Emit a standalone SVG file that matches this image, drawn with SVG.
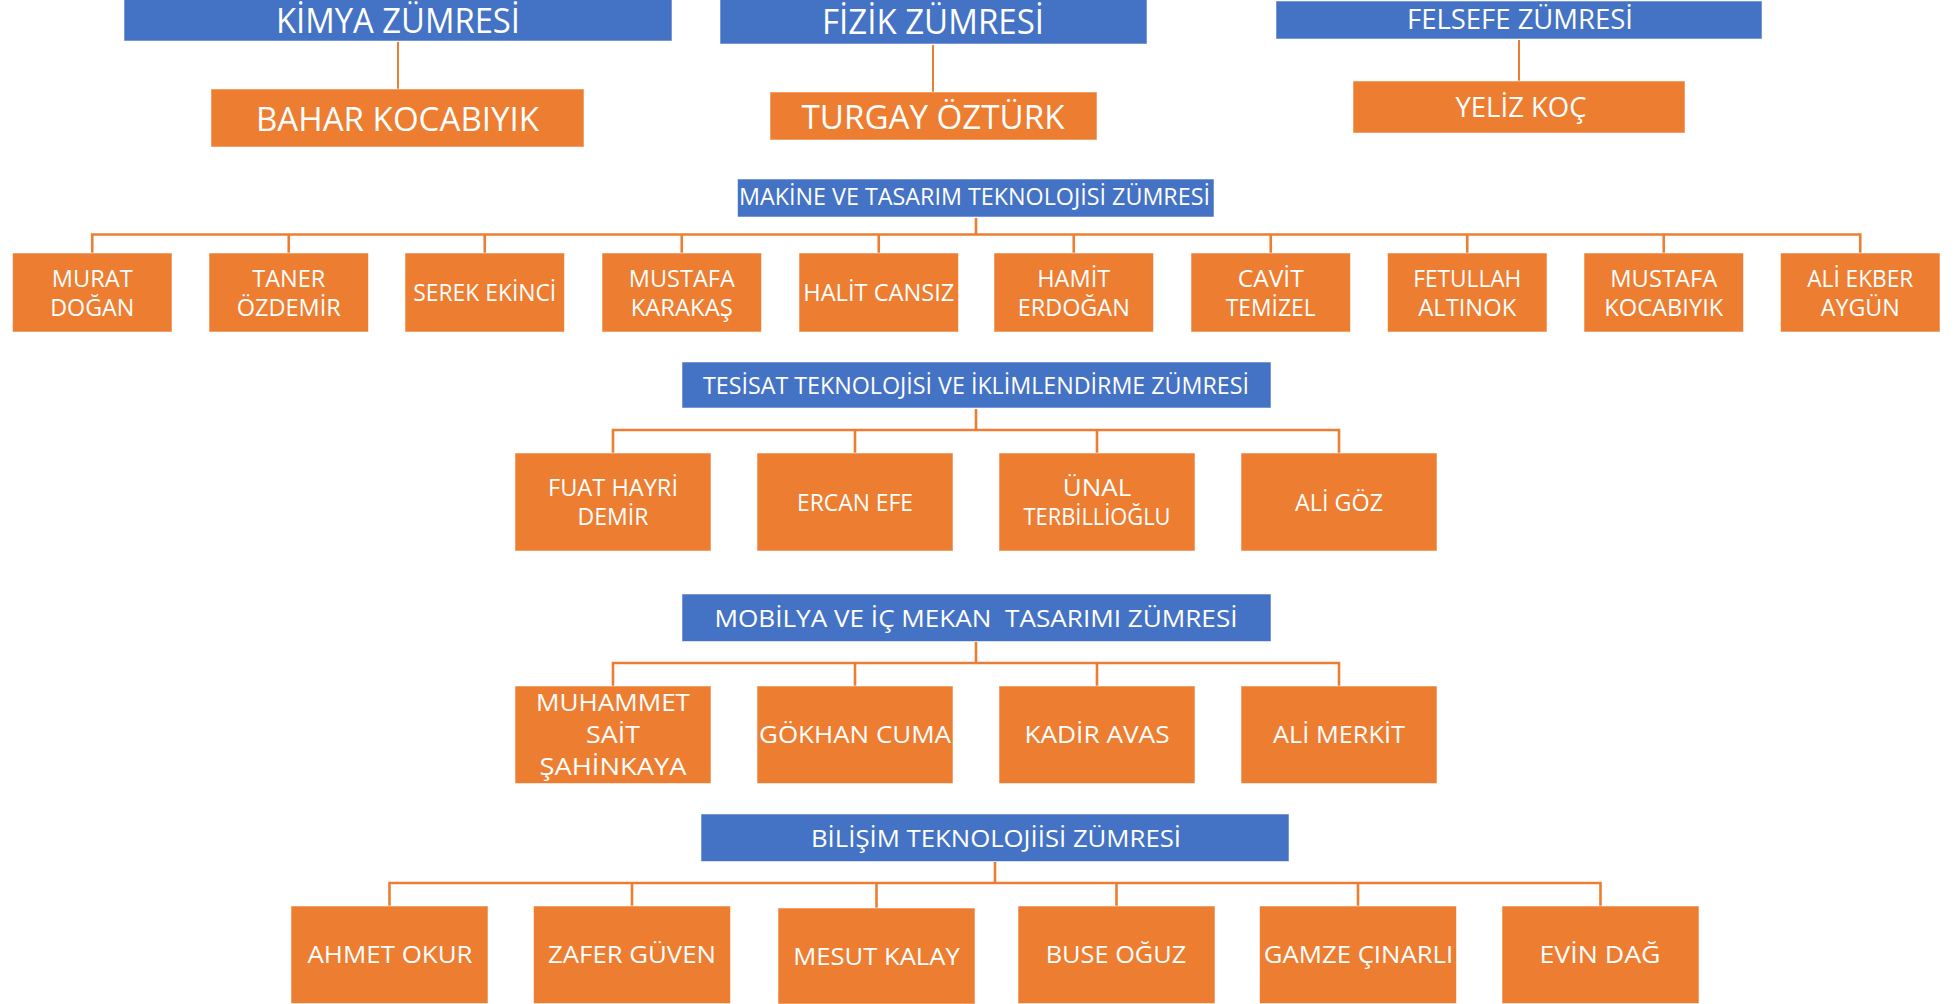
<svg xmlns="http://www.w3.org/2000/svg" width="1955" height="1004" viewBox="0 0 1955 1004">
<style>
.hd{fill:#4472C4;stroke:#ffffff;stroke-opacity:.55;stroke-width:1}
.nd{fill:#ED7D31;stroke:#ffffff;stroke-opacity:.55;stroke-width:1}
text{font-family:"Open Sans","Liberation Sans",sans-serif;fill:#ffffff;text-anchor:middle;white-space:pre}
.t35{font-size:35px}.t33{font-size:33px}.t28{font-size:28px}.t27{font-size:27px}.t24{font-size:24px}.t23{font-size:23.5px}
.cn line,.cn path{stroke:#ED7D31;fill:none}
.thin{stroke-width:2}
.thk{stroke-width:2.6}
</style>
<rect width="1955" height="1004" fill="#ffffff"/>
<g class="cn">
<line class="thin" x1="398" y1="42" x2="398" y2="89"/>
<line class="thin" x1="933" y1="45" x2="933" y2="92"/>
<line class="thin" x1="1519" y1="40" x2="1519" y2="81"/>
<path class="thk" d="M976 218V234.5M92.25 253V234.5H1860.25V253M288.75 234.5V253M484.75 234.5V253M681.75 234.5V253M878.75 234.5V253M1073.75 234.5V253M1270.75 234.5V253M1467.25 234.5V253M1663.75 234.5V253"/>
<path class="thk" d="M976 409V430M613 453V430H1339V453M855 430V453M1097 430V453"/>
<path class="thk" d="M976 642V663M613 686V663H1339V686M855 663V686M1097 663V686"/>
<path class="thk" d="M995 862V883M389.5 906V883H1600.5V906M632 883V906M876.5 883V908M1116.5 883V906M1358 883V906"/>
</g>
<g id="kimya"><rect class="hd" x="124" y="-1" width="548" height="42"/><text class="t35" x="398" y="33" textLength="244" lengthAdjust="spacingAndGlyphs">KİMYA ZÜMRESİ</text></g>
<g id="bahar"><rect class="nd" x="211" y="89" width="373" height="58"/><text class="t33" x="397.5" y="131" textLength="283" lengthAdjust="spacingAndGlyphs">BAHAR KOCABIYIK</text></g>
<g id="fizik"><rect class="hd" x="720" y="-1" width="427" height="45"/><text class="t35" x="933" y="34" textLength="222" lengthAdjust="spacingAndGlyphs">FİZİK ZÜMRESİ</text></g>
<g id="turgay"><rect class="nd" x="770" y="92" width="327" height="48"/><text class="t33" x="933" y="129" textLength="263" lengthAdjust="spacingAndGlyphs">TURGAY ÖZTÜRK</text></g>
<g id="felsefe"><rect class="hd" x="1276" y="1" width="486" height="38"/><text class="t27" x="1520" y="29" textLength="226" lengthAdjust="spacingAndGlyphs">FELSEFE ZÜMRESİ</text></g>
<g id="yeliz"><rect class="nd" x="1353" y="81" width="332" height="52"/><text class="t28" x="1521" y="117" textLength="131" lengthAdjust="spacingAndGlyphs">YELİZ KOÇ</text></g>

<g id="makine"><rect class="hd" x="737.5" y="179" width="476.5" height="38"/><text class="t24" x="974.5" y="205" textLength="471" lengthAdjust="spacingAndGlyphs">MAKİNE VE TASARIM TEKNOLOJİSİ ZÜMRESİ</text></g>
<g id="murat"><rect class="nd" x="12.5" y="253" width="159.5" height="79"/><text class="t23" x="92.25" y="287" textLength="81" lengthAdjust="spacingAndGlyphs">MURAT</text><text class="t23" x="92.25" y="316" textLength="84" lengthAdjust="spacingAndGlyphs">DOĞAN</text></g>
<g id="taner"><rect class="nd" x="209" y="253" width="159.5" height="79"/><text class="t23" x="288.75" y="287" textLength="73" lengthAdjust="spacingAndGlyphs">TANER</text><text class="t23" x="288.75" y="316" textLength="104" lengthAdjust="spacingAndGlyphs">ÖZDEMİR</text></g>
<g id="serek"><rect class="nd" x="405" y="253" width="159.5" height="79"/><text class="t23" x="484.75" y="301" textLength="143" lengthAdjust="spacingAndGlyphs">SEREK EKİNCİ</text></g>
<g id="mustafak"><rect class="nd" x="602" y="253" width="159.5" height="79"/><text class="t23" x="681.75" y="287" textLength="106" lengthAdjust="spacingAndGlyphs">MUSTAFA</text><text class="t23" x="681.75" y="316" textLength="102" lengthAdjust="spacingAndGlyphs">KARAKAŞ</text></g>
<g id="halit"><rect class="nd" x="799" y="253" width="159.5" height="79"/><text class="t23" x="878.75" y="301" textLength="151" lengthAdjust="spacingAndGlyphs">HALİT CANSIZ</text></g>
<g id="hamit"><rect class="nd" x="994" y="253" width="159.5" height="79"/><text class="t23" x="1073.75" y="287" textLength="73" lengthAdjust="spacingAndGlyphs">HAMİT</text><text class="t23" x="1073.75" y="316" textLength="112" lengthAdjust="spacingAndGlyphs">ERDOĞAN</text></g>
<g id="cavit"><rect class="nd" x="1191" y="253" width="159.5" height="79"/><text class="t23" x="1270.75" y="287" textLength="66" lengthAdjust="spacingAndGlyphs">CAVİT</text><text class="t23" x="1270.75" y="316" textLength="90" lengthAdjust="spacingAndGlyphs">TEMİZEL</text></g>
<g id="fetullah"><rect class="nd" x="1387.5" y="253" width="159.5" height="79"/><text class="t23" x="1467.25" y="287" textLength="108" lengthAdjust="spacingAndGlyphs">FETULLAH</text><text class="t23" x="1467.25" y="316" textLength="98" lengthAdjust="spacingAndGlyphs">ALTINOK</text></g>
<g id="mustafakoc"><rect class="nd" x="1584" y="253" width="159.5" height="79"/><text class="t23" x="1663.75" y="287" textLength="107" lengthAdjust="spacingAndGlyphs">MUSTAFA</text><text class="t23" x="1663.75" y="316" textLength="119" lengthAdjust="spacingAndGlyphs">KOCABIYIK</text></g>
<g id="aliekber"><rect class="nd" x="1780.5" y="253" width="159.5" height="79"/><text class="t23" x="1860.25" y="287" textLength="106" lengthAdjust="spacingAndGlyphs">ALİ EKBER</text><text class="t23" x="1860.25" y="316" textLength="79" lengthAdjust="spacingAndGlyphs">AYGÜN</text></g>

<g id="tesisat"><rect class="hd" x="682" y="362" width="589" height="46"/><text class="t24" x="976" y="393.5" textLength="546" lengthAdjust="spacingAndGlyphs">TESİSAT TEKNOLOJİSİ VE İKLİMLENDİRME ZÜMRESİ</text></g>
<g id="fuat"><rect class="nd" x="515" y="453" width="196" height="98"/><text class="t23" x="613" y="496" textLength="130" lengthAdjust="spacingAndGlyphs">FUAT HAYRİ</text><text class="t23" x="613" y="525" textLength="71" lengthAdjust="spacingAndGlyphs">DEMİR</text></g>
<g id="ercan"><rect class="nd" x="757" y="453" width="196" height="98"/><text class="t23" x="855" y="510.5" textLength="116" lengthAdjust="spacingAndGlyphs">ERCAN EFE</text></g>
<g id="unal"><rect class="nd" x="999" y="453" width="196" height="98"/><text class="t23" x="1097" y="496" textLength="68.5" lengthAdjust="spacingAndGlyphs">ÜNAL</text><text class="t23" x="1097" y="525" textLength="147" lengthAdjust="spacingAndGlyphs">TERBİLLİOĞLU</text></g>
<g id="aligoz"><rect class="nd" x="1241" y="453" width="196" height="98"/><text class="t23" x="1339" y="510.5" textLength="88" lengthAdjust="spacingAndGlyphs">ALİ GÖZ</text></g>

<g id="mobilya"><rect class="hd" x="682" y="594" width="589" height="47.5"/><text class="t24" x="976" y="627" textLength="523" lengthAdjust="spacingAndGlyphs">MOBİLYA VE İÇ MEKAN  TASARIMI ZÜMRESİ</text></g>
<g id="muhammet"><rect class="nd" x="515" y="686" width="196" height="97.5"/><text class="t24" x="613" y="711" textLength="154" lengthAdjust="spacingAndGlyphs">MUHAMMET</text><text class="t24" x="613" y="743" textLength="54" lengthAdjust="spacingAndGlyphs">SAİT</text><text class="t24" x="613" y="775" textLength="147" lengthAdjust="spacingAndGlyphs">ŞAHİNKAYA</text></g>
<g id="gokhan"><rect class="nd" x="757" y="686" width="196" height="97.5"/><text class="t24" x="855" y="743.3" textLength="192" lengthAdjust="spacingAndGlyphs">GÖKHAN CUMA</text></g>
<g id="kadir"><rect class="nd" x="999" y="686" width="196" height="97.5"/><text class="t24" x="1097" y="743.3" textLength="145" lengthAdjust="spacingAndGlyphs">KADİR AVAS</text></g>
<g id="alimerkit"><rect class="nd" x="1241" y="686" width="196" height="97.5"/><text class="t24" x="1339" y="743.3" textLength="132" lengthAdjust="spacingAndGlyphs">ALİ MERKİT</text></g>

<g id="bilisim"><rect class="hd" x="701" y="814" width="588" height="47.5"/><text class="t24" x="996" y="847" textLength="370" lengthAdjust="spacingAndGlyphs">BİLİŞİM TEKNOLOJİİSİ ZÜMRESİ</text></g>
<g id="ahmet"><rect class="nd" x="291" y="906" width="197" height="97.5"/><text class="t24" x="390" y="963.3" textLength="165" lengthAdjust="spacingAndGlyphs">AHMET OKUR</text></g>
<g id="zafer"><rect class="nd" x="533.5" y="906" width="197" height="97.5"/><text class="t24" x="632" y="963.3" textLength="168" lengthAdjust="spacingAndGlyphs">ZAFER GÜVEN</text></g>
<g id="mesut"><rect class="nd" x="778" y="908" width="197" height="96"/><text class="t24" x="876.5" y="965" textLength="166.5" lengthAdjust="spacingAndGlyphs">MESUT KALAY</text></g>
<g id="buse"><rect class="nd" x="1018" y="906" width="197" height="97.5"/><text class="t24" x="1116" y="963.3" textLength="140.5" lengthAdjust="spacingAndGlyphs">BUSE OĞUZ</text></g>
<g id="gamze"><rect class="nd" x="1259.5" y="906" width="197" height="97.5"/><text class="t24" x="1358.5" y="963.3" textLength="189.5" lengthAdjust="spacingAndGlyphs">GAMZE ÇINARLI</text></g>
<g id="evin"><rect class="nd" x="1502" y="906" width="197" height="97.5"/><text class="t24" x="1600" y="963.3" textLength="121" lengthAdjust="spacingAndGlyphs">EVİN DAĞ</text></g>
</svg>
